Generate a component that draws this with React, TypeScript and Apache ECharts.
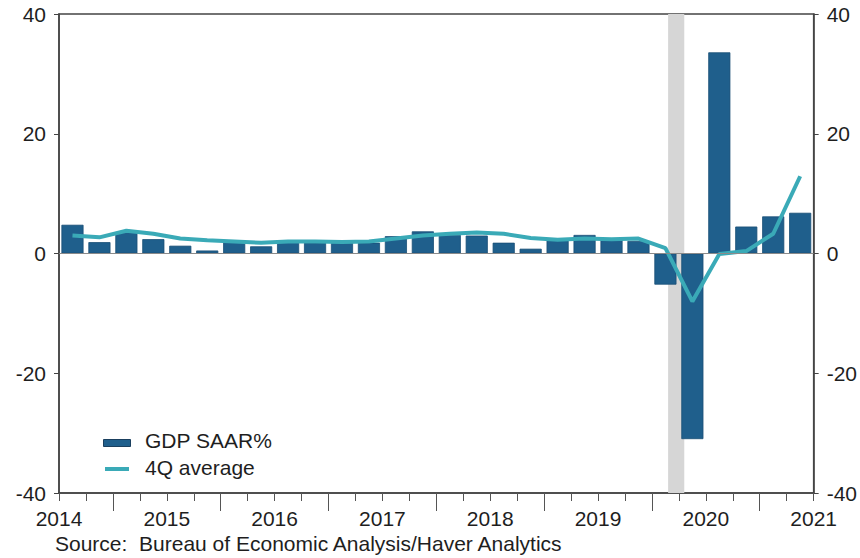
import React, { useEffect, useRef } from "react";
import * as echarts from "echarts";

// Quarters 2014Q3 .. 2021Q2
const quarters: string[] = [
  "2014Q3", "2014Q4",
  "2015Q1", "2015Q2", "2015Q3", "2015Q4",
  "2016Q1", "2016Q2", "2016Q3", "2016Q4",
  "2017Q1", "2017Q2", "2017Q3", "2017Q4",
  "2018Q1", "2018Q2", "2018Q3", "2018Q4",
  "2019Q1", "2019Q2", "2019Q3", "2019Q4",
  "2020Q1", "2020Q2", "2020Q3", "2020Q4",
  "2021Q1", "2021Q2",
];

const gdpSaar: number[] = [
  4.8, 1.9,
  3.6, 2.4, 1.3, 0.5,
  2.2, 1.2, 2.2, 1.8,
  1.8, 1.8, 2.9, 3.7,
  3.1, 3.0, 1.8, 0.8,
  2.3, 3.1, 2.3, 2.1,
  -5.2, -31.0, 33.6, 4.5,
  6.2, 6.8,
];

const avg4Q: number[] = [
  3.0, 2.7,
  3.8, 3.3, 2.5, 2.2,
  2.0, 1.8, 2.0, 2.0,
  1.9, 2.0, 2.5, 3.0,
  3.3, 3.5, 3.3, 2.6,
  2.3, 2.5, 2.4, 2.5,
  0.9, -8.0, -0.1, 0.4,
  3.3, 12.9,
];

const yearLabels: string[] = ["2014", "2015", "2016", "2017", "2018", "2019", "2020", "2021"];
// recession shading, in quarter units from the axis start (2014Q3)
const recession: [number, number] = [22.6, 23.2];

const BAR_COLOR = "#1f5f8c";
const LINE_COLOR = "#3aaab7";
const FONT = "'Liberation Sans', Arial, Helvetica, sans-serif";
const TXT = "#1e1e1e";

export default function App() {
  const ref = useRef<HTMLDivElement>(null);

  useEffect(() => {
    if (!ref.current) return;
    const chart = echarts.init(ref.current, undefined, { renderer: "svg" });
    const n = quarters.length;
    const labelPos = yearLabels.map((_, i) => i * 4);
    const yearTicks = yearLabels.slice(0, -1).map((_, i) => i * 4 + 2);

    const yAxisCommon = {
      type: "value" as const,
      min: -40,
      max: 40,
      interval: 20,
      axisLine: { show: true, lineStyle: { color: "#444", width: 1.5 } },
      axisTick: { show: true, length: 5, lineStyle: { color: "#444" } },
      splitLine: { show: false },
      axisLabel: { fontSize: 21, color: TXT, fontFamily: FONT, margin: 13 },
    };

    chart.setOption({
      animation: false,
      backgroundColor: "#ffffff",
      textStyle: { fontFamily: FONT },
      grid: {
        left: 59,
        right: 44,
        top: 14,
        bottom: 65,
        show: true,
        borderColor: "#444",
        borderWidth: 1.5,
        backgroundColor: "transparent",
      },
      xAxis: [
        {
          type: "category",
          data: quarters,
          boundaryGap: true,
          position: "bottom",
          axisLine: { show: true, onZero: false, lineStyle: { color: "#444", width: 1.5 } },
          axisTick: { show: true, interval: 0, length: 8, lineStyle: { color: "#555" } },
          axisLabel: { show: false },
          splitLine: { show: false },
        },
        {
          type: "value",
          min: 0,
          max: n,
          position: "bottom",
          axisLine: { show: false, onZero: false },
          axisTick: {
            show: true,
            customValues: yearTicks,
            length: 18,
            lineStyle: { color: "#555" },
          },
          axisLabel: {
            show: true,
            customValues: labelPos,
            showMinLabel: true,
            showMaxLabel: true,
            fontSize: 21,
            color: TXT,
            fontFamily: FONT,
            margin: 15,
            formatter: (v: number) => yearLabels[Math.round(v / 4)] ?? "",
          },
          splitLine: { show: false },
        },
      ],
      yAxis: [
        { ...yAxisCommon, position: "left" },
        { ...yAxisCommon, position: "right" },
      ],
      series: [
        {
          name: "recession",
          type: "line",
          xAxisIndex: 1,
          yAxisIndex: 0,
          data: [[0, 0]],
          symbol: "none",
          lineStyle: { width: 0, opacity: 0 },
          silent: true,
          z: 0,
          markArea: {
            silent: true,
            itemStyle: { color: "#d6d6d6" },
            data: [[{ xAxis: recession[0] }, { xAxis: recession[1] }]],
          },
        },
        {
          name: "GDP SAAR%",
          type: "bar",
          xAxisIndex: 0,
          yAxisIndex: 0,
          data: gdpSaar,
          barCategoryGap: "18%",
          itemStyle: { color: BAR_COLOR, borderColor: "#1a4f76", borderWidth: 0.8 },
          z: 2,
          markLine: {
            silent: true,
            symbol: "none",
            label: { show: false },
            lineStyle: { color: "#8a8a8a", width: 1, type: "solid" },
            data: [{ yAxis: 0 }],
          },
        },
        {
          name: "4Q average",
          type: "line",
          xAxisIndex: 0,
          yAxisIndex: 0,
          data: avg4Q,
          symbol: "none",
          lineStyle: { color: LINE_COLOR, width: 4 },
          itemStyle: { color: LINE_COLOR },
          z: 3,
        },
      ],
      graphic: [
        {
          type: "rect",
          left: 103,
          top: 439,
          shape: { width: 27, height: 7 },
          style: { fill: BAR_COLOR, stroke: "#1a3f5e", lineWidth: 1 },
        },
        {
          type: "text",
          left: 145,
          top: 430,
          style: { text: "GDP SAAR%", fontSize: 21, fill: TXT, fontFamily: FONT },
        },
        {
          type: "rect",
          left: 105,
          top: 467,
          shape: { width: 24, height: 4 },
          style: { fill: LINE_COLOR },
        },
        {
          type: "text",
          left: 145,
          top: 457,
          style: { text: "4Q average", fontSize: 21, fill: TXT, fontFamily: FONT },
        },
        {
          type: "text",
          left: 55,
          top: 533,
          style: {
            text: "Source:  Bureau of Economic Analysis/Haver Analytics",
            fontSize: 21,
            fill: TXT,
            fontFamily: FONT,
          },
        },
      ],
    });

    return () => chart.dispose();
  }, []);

  return (
    <div
      ref={ref}
      style={{ position: "absolute", left: 0, top: 0, width: 860, height: 558 }}
    />
  );
}
